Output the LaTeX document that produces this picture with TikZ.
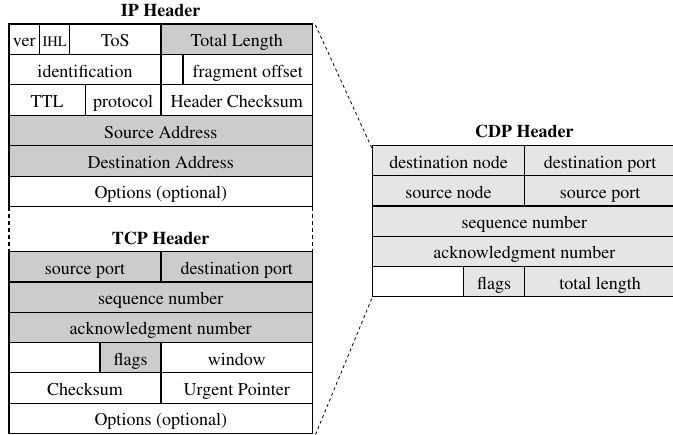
\documentclass[tikz,border=0pt]{standalone}
\usepackage[T1]{fontenc}
\renewcommand\rmdefault{ptm}
\definecolor{hdrdark}{gray}{0.80}
\definecolor{hdrlight}{gray}{0.90}
\tikzset{
  cell/.style={draw=black, line width=1.2pt, inner sep=0pt, outer sep=0pt,
    font=\fontsize{18}{20}\selectfont, text=black,
    text height=15pt, text depth=0pt},
  title/.style={font=\fontsize{18}{20}\selectfont\bfseries, inner sep=0pt,
    anchor=base},
  gap/.style={line width=1.2pt, dash pattern=on 4pt off 3pt},
  zoomline/.style={line width=0.8pt, dash pattern=on 3pt off 3pt},
}
% \hdrcell{name}{x0}{x1}{y0}{y1}{fill}{text}
\newcommand\hdrcell[7]{%
  \node[cell, fill=#6, minimum width={#3-#2}, minimum height={#5-#4}]
    (#1) at ({(#2+#3)/2},{(#4+#5)/2}) {#7};}
\begin{document}
\begin{tikzpicture}[x=1pt, y=-1pt]
\useasboundingbox (0,0) rectangle (673,435);
\clip (0,0) rectangle (673,435);

% ---------- IP header ----------
\node[title] (iptitle) at (160.7,16.7) {IP Header};
\hdrcell{ver}{9}{39.7}{24}{54.45}{white}{ver}
\hdrcell{ihl}{39.7}{69.7}{24}{54.45}{white}{\fontsize{14.5}{16}\selectfont IHL}
\hdrcell{tos}{69.7}{161}{24}{54.45}{white}{ToS}
\hdrcell{tlen}{161}{312.5}{24}{54.45}{hdrdark}{Total Length}
\hdrcell{ident}{9}{161}{54.45}{84.9}{white}{identification}
\hdrcell{ipflags}{161}{183}{54.45}{84.9}{white}{}
\hdrcell{frag}{183}{312.5}{54.45}{84.9}{white}{fragment offset}
\hdrcell{ttl}{9}{85.3}{84.9}{115.35}{white}{TTL}
\hdrcell{proto}{85.3}{161}{84.9}{115.35}{white}{protocol}
\hdrcell{hcs}{161}{312.5}{84.9}{115.35}{white}{Header Checksum}
\hdrcell{srcaddr}{9}{312.5}{115.35}{145.8}{hdrdark}{Source Address}
\hdrcell{dstaddr}{9}{312.5}{145.8}{176.25}{hdrdark}{Destination Address}
\hdrcell{ipopt}{9}{312.5}{176.25}{206.7}{white}{Options (optional)}

% ---------- TCP header ----------
\node[title] (tcptitle) at (160.7,244.3) {TCP Header};
\hdrcell{sport}{9}{161}{251.7}{282}{hdrdark}{source port}
\hdrcell{dport}{161}{312.5}{251.7}{282}{hdrdark}{destination port}
\hdrcell{seq}{9}{312.5}{282}{312.3}{hdrdark}{sequence number}
\hdrcell{ack}{9}{312.5}{312.3}{342.6}{hdrdark}{acknowledgment number}
\hdrcell{tcpres}{9}{100}{342.6}{372.9}{white}{}
\hdrcell{tcpflags}{100}{161}{342.6}{372.9}{hdrdark}{flags}
\hdrcell{win}{161}{312.5}{342.6}{372.9}{white}{window}
\hdrcell{cks}{9}{161}{372.9}{403.2}{white}{Checksum}
\hdrcell{urg}{161}{312.5}{372.9}{403.2}{white}{Urgent Pointer}
\hdrcell{tcpopt}{9}{312.5}{403.2}{433.5}{white}{Options (optional)}

% gap between the two headers
\draw[gap] (ipopt.south west) -- (sport.north west);
\draw[gap] (ipopt.south east) -- (dport.north east);

% ---------- CDP header ----------
\node[title] (cdptitle) at (524.3,137.3) {CDP Header};
\hdrcell{dnode}{372.7}{524.3}{145.7}{175.9}{hdrlight}{destination node}
\hdrcell{dnport}{524.3}{676}{145.7}{175.9}{hdrlight}{destination port}
\hdrcell{snode}{372.7}{524.3}{175.9}{206.1}{hdrlight}{source node}
\hdrcell{snport}{524.3}{676}{175.9}{206.1}{hdrlight}{source port}
\hdrcell{cseq}{372.7}{676}{206.1}{236.3}{hdrlight}{sequence number}
\hdrcell{cack}{372.7}{676}{236.3}{266.5}{hdrlight}{acknowledgment number}
\hdrcell{cres}{372.7}{463.7}{266.5}{296.7}{white}{}
\hdrcell{cflags}{463.7}{524.3}{266.5}{296.7}{hdrlight}{flags}
\hdrcell{ctlen}{524.3}{676}{266.5}{296.7}{hdrlight}{total length}

% zoom lines from the IP/TCP stack to the CDP header
\draw[zoomline] ([shift={(3pt,-1pt)}]tlen.north east) -- ([shift={(-1pt,-2pt)}]dnode.north west);
\draw[zoomline] ([shift={(-1pt,-2pt)}]cres.south west) -- ([shift={(3pt,-1pt)}]tcpopt.south east);
\end{tikzpicture}
\end{document}
